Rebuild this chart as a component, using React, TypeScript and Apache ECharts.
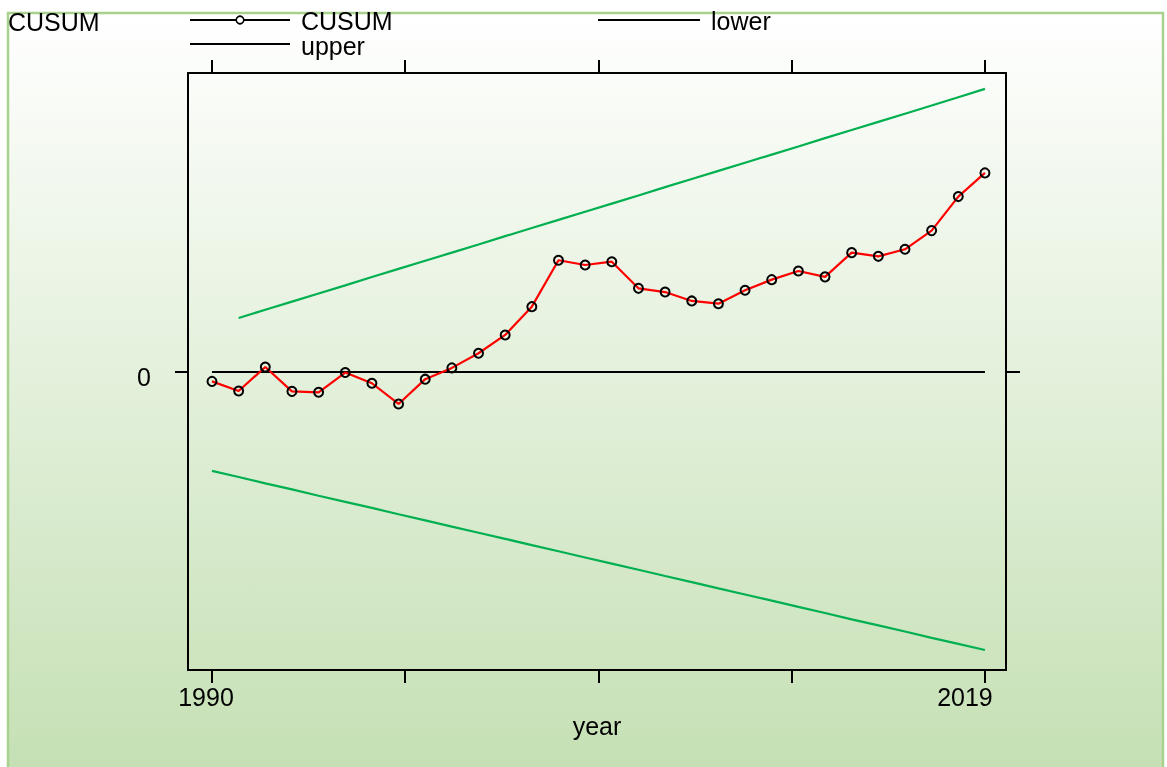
import { useEffect, useRef } from "react";
import * as echarts from "echarts";

// Observation years
const years = [
  1990, 1991, 1992, 1993, 1994, 1995, 1996, 1997, 1998, 1999,
  2000, 2001, 2002, 2003, 2004, 2005, 2006, 2007, 2008, 2009,
  2010, 2011, 2012, 2013, 2014, 2015, 2016, 2017, 2018, 2019,
];

// Cumulative sum of recursive residuals
const cusum = [
  -0.51, -1.03, 0.27, -1.05, -1.1, -0.03, -0.61, -1.73, -0.39, 0.22,
  1.01, 2.0, 3.53, 6.04, 5.78, 5.96, 4.52, 4.32, 3.84, 3.69,
  4.42, 4.99, 5.46, 5.14, 6.45, 6.25, 6.63, 7.64, 9.48, 10.76,
];

// 5% significance bounds (upper starts one year later)
const lower = [
  -5.35, -5.68, -6.02, -6.35, -6.69, -7.02, -7.35, -7.69, -8.02, -8.36,
  -8.69, -9.02, -9.36, -9.69, -10.03, -10.36, -10.69, -11.03, -11.36, -11.7,
  -12.03, -12.36, -12.7, -13.03, -13.37, -13.7, -14.03, -14.37, -14.7, -15.03,
];
const upper = [
  null, 2.92, 3.36, 3.8, 4.24, 4.68, 5.13, 5.57, 6.01, 6.45,
  6.89, 7.34, 7.78, 8.22, 8.66, 9.1, 9.54, 9.99, 10.43, 10.87,
  11.31, 11.75, 12.19, 12.64, 13.08, 13.52, 13.96, 14.4, 14.85, 15.3,
];

// Reference line at zero, spanning the sample
const zeroYears = [1990, 2019];
const zeroValues = [0, 0];

// Axis ticks and labels
const xTicks = [1990, 1997.25, 2004.5, 2011.75, 2019];
const xLabels = [1990, 2019];
const yTicks = [0];

const FONT = "'Liberation Sans', Arial, sans-serif";
const FS = 25;

const legendText = (text: string, x: number, y: number) => ({
  type: "text",
  x,
  y,
  style: {
    text,
    fontSize: FS,
    fontFamily: FONT,
    fill: "#000",
    verticalAlign: "middle",
    lineHeight: 21,
  },
});

const legendLine = (x1: number, x2: number, y: number) => ({
  type: "line",
  shape: { x1, y1: y, x2, y2: y },
  style: { stroke: "#000", lineWidth: 2 },
});

export default function App() {
  const ref = useRef<HTMLDivElement>(null);

  useEffect(() => {
    const chart = echarts.init(ref.current!, null, { renderer: "svg" });

    const pairs = (xs: number[], vals: (number | null)[]) =>
      xs
        .map((x, i) => [x, vals[i]])
        .filter((p) => p[1] !== null) as number[][];

    const xRange = { min: 1989.1, max: 2019.79 };
    const yRange = { min: -16.11, max: 16.16 };

    chart.setOption({
      animation: false,
      textStyle: { fontFamily: FONT },
      graphic: [
        {
          type: "rect",
          z: -10,
          silent: true,
          shape: { x: 8, y: 13, width: 1155, height: 760 },
          style: {
            fill: new echarts.graphic.LinearGradient(0, 0, 0, 1, [
              { offset: 0, color: "#ffffff" },
              { offset: 1, color: "#c5e0b4" },
            ]),
            stroke: "#a9d18e",
            lineWidth: 2.5,
          },
        },
        {
          type: "text",
          x: 8,
          y: 22,
          style: {
            text: "CUSUM",
            fontSize: FS,
            fontFamily: FONT,
            fill: "#000",
            verticalAlign: "middle",
            lineHeight: 21,
          },
        },
        // Legend: CUSUM
        legendLine(190, 290, 20),
        {
          type: "circle",
          shape: { cx: 240, cy: 20, r: 3.8 },
          style: { fill: "#ffffff", stroke: "#000", lineWidth: 1.6 },
        },
        legendText("CUSUM", 301, 21),
        // Legend: lower
        legendLine(598, 700, 20),
        legendText("lower", 711, 21),
        // Legend: upper
        legendLine(190, 290, 44),
        legendText("upper", 301, 46),
      ],
      grid: { left: 188, top: 73, width: 818, height: 597, containLabel: false },
      xAxis: [
        {
          type: "value",
          position: "bottom",
          ...xRange,
          name: "year",
          nameLocation: "middle",
          nameGap: 42,
          nameTextStyle: { fontSize: FS, color: "#000", fontFamily: FONT },
          splitLine: { show: false },
          axisLine: { show: true, onZero: false, lineStyle: { color: "#000", width: 2 } },
          axisTick: {
            show: true,
            inside: false,
            length: 13,
            customValues: xTicks,
            lineStyle: { color: "#000", width: 2 },
          },
          axisLabel: {
            show: true,
            customValues: xLabels,
            margin: 14,
            color: "#000",
            fontSize: FS,
            fontFamily: FONT,
            formatter: (v: number) => (v === 1990 ? `{a|${v}}` : `{b|${v}}`),
            rich: {
              a: { fontSize: FS, fontFamily: FONT, color: "#000", padding: [0, 12, 0, 0] },
              b: { fontSize: FS, fontFamily: FONT, color: "#000", padding: [0, 40, 0, 0] },
            },
          },
        },
        {
          type: "value",
          position: "top",
          ...xRange,
          splitLine: { show: false },
          axisLine: { show: true, onZero: false, lineStyle: { color: "#000", width: 2 } },
          axisTick: {
            show: true,
            inside: false,
            length: 13,
            customValues: xTicks,
            lineStyle: { color: "#000", width: 2 },
          },
          axisLabel: { show: false },
        },
      ],
      yAxis: [
        {
          type: "value",
          position: "left",
          ...yRange,
          splitLine: { show: false },
          axisLine: { show: true, onZero: false, lineStyle: { color: "#000", width: 2 } },
          axisTick: {
            show: true,
            inside: false,
            length: 13,
            customValues: yTicks,
            lineStyle: { color: "#000", width: 2 },
          },
          axisLabel: {
            show: true,
            customValues: yTicks,
            margin: 37,
            color: "#000",
            fontSize: FS,
            fontFamily: FONT,
            verticalAlign: "top",
            lineHeight: 10,
          },
        },
        {
          type: "value",
          position: "right",
          ...yRange,
          splitLine: { show: false },
          axisLine: { show: true, onZero: false, lineStyle: { color: "#000", width: 2 } },
          axisTick: {
            show: true,
            inside: false,
            length: 14,
            customValues: yTicks,
            lineStyle: { color: "#000", width: 2 },
          },
          axisLabel: { show: false },
        },
      ],
      series: [
        {
          name: "upper",
          type: "line",
          data: pairs(years, upper),
          showSymbol: false,
          symbol: "none",
          lineStyle: { color: "#00b050", width: 2.2 },
          itemStyle: { color: "#00b050" },
        },
        {
          name: "lower",
          type: "line",
          data: pairs(years, lower),
          showSymbol: false,
          symbol: "none",
          lineStyle: { color: "#00b050", width: 2.2 },
          itemStyle: { color: "#00b050" },
        },
        {
          name: "zero",
          type: "line",
          data: pairs(zeroYears, zeroValues),
          showSymbol: false,
          symbol: "none",
          lineStyle: { color: "#000", width: 2 },
          itemStyle: { color: "#000" },
        },
        {
          name: "CUSUM",
          type: "line",
          data: pairs(years, cusum),
          symbol: "circle",
          symbolSize: 9,
          showSymbol: true,
          lineStyle: { color: "#ff0000", width: 2.2 },
          itemStyle: { color: "rgba(0,0,0,0)", borderColor: "#000", borderWidth: 2 },
        },
      ],
    });

    return () => chart.dispose();
  }, []);

  return (
    <div
      ref={ref}
      style={{ position: "fixed", left: 0, top: 0, width: 1167, height: 767 }}
    />
  );
}
